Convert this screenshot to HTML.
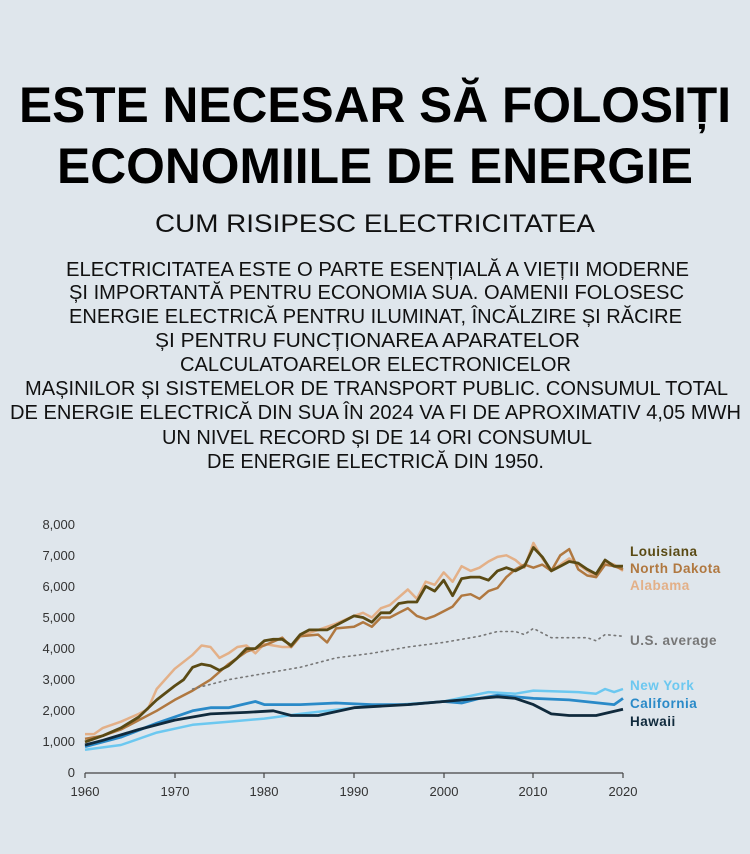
<!DOCTYPE html>
<html><head><meta charset="utf-8"><style>
html,body{margin:0;padding:0;background:#dfe6ec;}
svg{display:block;}
text{font-family:"Liberation Sans",Arial,sans-serif;}
</style></head><body>
<svg id="s" width="750" height="854" viewBox="0 0 750 854">
<rect width="750" height="854" fill="#dfe6ec"/>
<g font-weight="bold" fill="#000" font-size="50">
<text x="19" y="122" textLength="712" lengthAdjust="spacingAndGlyphs">ESTE NECESAR SĂ FOLOSIȚI</text>
<text x="57" y="183" textLength="636" lengthAdjust="spacingAndGlyphs">ECONOMIILE DE ENERGIE</text>
</g>
<text x="155" y="232" font-size="25" fill="#111" textLength="440" lengthAdjust="spacingAndGlyphs">CUM RISIPESC ELECTRICITATEA</text>
<g font-size="20" fill="#111">
<text x="66" y="276" textLength="623" lengthAdjust="spacingAndGlyphs">ELECTRICITATEA ESTE O PARTE ESENȚIALĂ A VIEȚII MODERNE</text>
<text x="69" y="299" textLength="615" lengthAdjust="spacingAndGlyphs">ȘI IMPORTANTĂ PENTRU ECONOMIA SUA. OAMENII FOLOSESC</text>
<text x="69" y="323" textLength="613" lengthAdjust="spacingAndGlyphs">ENERGIE ELECTRICĂ PENTRU ILUMINAT, ÎNCĂLZIRE ȘI RĂCIRE</text>
<text x="155" y="347" textLength="425" lengthAdjust="spacingAndGlyphs">ȘI PENTRU FUNCȚIONAREA APARATELOR</text>
<text x="180" y="371" textLength="391" lengthAdjust="spacingAndGlyphs">CALCULATOARELOR ELECTRONICELOR</text>
<text x="25" y="395" textLength="703" lengthAdjust="spacingAndGlyphs">MAȘINILOR ȘI SISTEMELOR DE TRANSPORT PUBLIC. CONSUMUL TOTAL</text>
<text x="10" y="419" textLength="731" lengthAdjust="spacingAndGlyphs">DE ENERGIE ELECTRICĂ DIN SUA ÎN 2024 VA FI DE APROXIMATIV 4,05 MWH</text>
<text x="162" y="444" textLength="430" lengthAdjust="spacingAndGlyphs">UN NIVEL RECORD ȘI DE 14 ORI CONSUMUL</text>
<text x="207" y="468" textLength="337" lengthAdjust="spacingAndGlyphs">DE ENERGIE ELECTRICĂ DIN 1950.</text>
</g>
<g font-size="13" fill="#333" text-anchor="end">
<text x="75" y="529">8,000</text><text x="75" y="560">7,000</text><text x="75" y="591">6,000</text>
<text x="75" y="622">5,000</text><text x="75" y="653">4,000</text><text x="75" y="684">3,000</text>
<text x="75" y="715">2,000</text><text x="75" y="746">1,000</text><text x="75" y="777">0</text>
</g>
<g font-size="13" fill="#333" text-anchor="middle">
<text x="85" y="796">1960</text><text x="175" y="796">1970</text><text x="264" y="796">1980</text>
<text x="354" y="796">1990</text><text x="444" y="796">2000</text><text x="533" y="796">2010</text><text x="623" y="796">2020</text>
</g>
<g stroke="#444" stroke-width="1.2">
<line x1="85" y1="773" x2="623" y2="773"/>
<line x1="85" y1="773" x2="85" y2="778"/><line x1="175" y1="773" x2="175" y2="778"/>
<line x1="264" y1="773" x2="264" y2="778"/><line x1="354" y1="773" x2="354" y2="778"/>
<line x1="444" y1="773" x2="444" y2="778"/><line x1="533" y1="773" x2="533" y2="778"/>
<line x1="623" y1="773" x2="623" y2="778"/>
</g>
<g id="lines" fill="none" stroke-linejoin="round"></g>
<g font-size="13.5" font-weight="bold" letter-spacing="0.5">
<text x="630" y="556" fill="#5a4a14">Louisiana</text>
<text x="630" y="573" fill="#b07840">North Dakota</text>
<text x="630" y="590" fill="#e3b088">Alabama</text>
<text x="630" y="645" fill="#777">U.S. average</text>
<text x="630" y="690" fill="#6cc8f0">New York</text>
<text x="630" y="708" fill="#2a8ac8">California</text>
<text x="630" y="726" fill="#102a3c">Hawaii</text>
</g>
</svg>
<script>
function X(y){return 85+(y-1960)*8.967;}
function V(v){return 773-v*0.0311;}
var S=[
["#e3b088",2.5,"",[1960,1250,1961,1250,1962,1450,1964,1650,1966,1900,1967,2050,1968,2700,1970,3350,1972,3800,1973,4100,1974,4050,1975,3700,1976,3850,1977,4050,1978,4100,1979,3850,1980,4150,1981,4100,1982,4050,1983,4050,1984,4400,1986,4600,1988,4800,1990,5050,1991,5150,1992,5000,1993,5300,1994,5400,1995,5650,1996,5900,1997,5600,1998,6150,1999,6050,2000,6450,2001,6150,2002,6650,2003,6500,2004,6600,2005,6800,2006,6950,2007,7000,2008,6850,2009,6600,2010,7400,2011,6900,2012,6500,2013,6700,2014,6900,2015,6700,2016,6500,2017,6300,2018,6800,2019,6700,2020,6500]],
["#b07840",2.5,"",[1960,1100,1962,1200,1964,1400,1966,1700,1968,2000,1970,2350,1972,2650,1974,3000,1976,3500,1978,3900,1980,4100,1982,4350,1983,4050,1984,4400,1986,4450,1987,4200,1988,4650,1990,4700,1991,4850,1992,4700,1993,5000,1994,5000,1995,5150,1996,5300,1997,5050,1998,4950,1999,5050,2000,5200,2001,5350,2002,5700,2003,5750,2004,5600,2005,5850,2006,5950,2007,6300,2008,6550,2009,6700,2010,6600,2011,6700,2012,6500,2013,7000,2014,7200,2015,6550,2016,6350,2017,6300,2018,6700,2019,6650,2020,6550]],
["#5a4a14",2.8,"",[1960,1000,1962,1200,1964,1450,1966,1800,1968,2350,1970,2800,1971,3000,1972,3400,1973,3500,1974,3450,1975,3300,1976,3450,1977,3700,1978,4000,1979,4000,1980,4250,1981,4300,1982,4300,1983,4100,1984,4450,1985,4600,1986,4600,1987,4600,1988,4750,1989,4900,1990,5050,1991,5000,1992,4850,1993,5150,1994,5150,1995,5450,1996,5500,1997,5500,1998,6000,1999,5850,2000,6200,2001,5700,2002,6250,2003,6300,2004,6300,2005,6200,2006,6500,2007,6600,2008,6500,2009,6650,2010,7250,2011,6950,2012,6500,2013,6650,2014,6800,2015,6750,2016,6550,2017,6400,2018,6850,2019,6650,2020,6650]],
["#777",1.6,"1.5 4",[1972,2700,1976,3000,1980,3200,1984,3400,1988,3700,1992,3850,1996,4050,2000,4200,2004,4400,2006,4550,2008,4550,2009,4450,2010,4650,2012,4350,2016,4350,2017,4250,2018,4450,2020,4400]],
["#6cc8f0",2.5,"",[1960,750,1964,900,1968,1300,1972,1550,1976,1650,1980,1750,1984,1900,1990,2100,2000,2300,2005,2600,2008,2550,2010,2650,2015,2600,2017,2550,2018,2700,2019,2600,2020,2700]],
["#2a8ac8",2.8,"",[1960,850,1964,1150,1968,1600,1972,2000,1974,2100,1976,2100,1979,2300,1980,2200,1984,2200,1988,2250,1992,2200,1996,2200,2000,2300,2002,2250,2004,2400,2006,2500,2010,2400,2014,2350,2019,2200,2020,2400]],
["#102a3c",2.8,"",[1960,900,1962,1050,1966,1400,1970,1700,1974,1900,1978,1950,1981,2000,1983,1850,1986,1850,1990,2100,1996,2200,2000,2300,2004,2400,2006,2450,2008,2400,2010,2200,2012,1900,2014,1850,2017,1850,2020,2050]]
];
var g=document.getElementById("lines"),h="";
S.forEach(function(s){var p=[];for(var i=0;i<s[3].length;i+=2)p.push(X(s[3][i]).toFixed(1)+","+V(s[3][i+1]).toFixed(1));
h+='<polyline points="'+p.join(" ")+'" stroke="'+s[0]+'" stroke-width="'+s[1]+'"'+(s[2]?' stroke-dasharray="'+s[2]+'" stroke-linecap="round"':'')+'/>';});
g.innerHTML=h;
</script>
</body></html>
